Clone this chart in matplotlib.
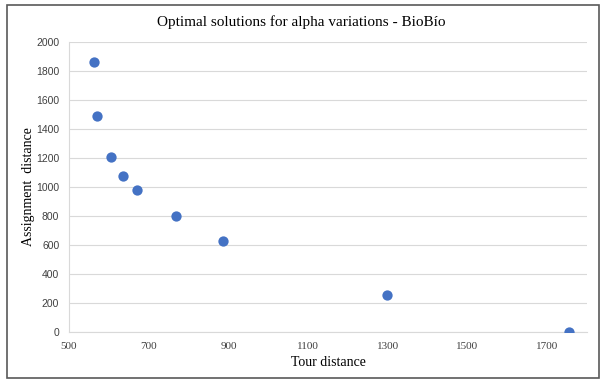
import matplotlib
matplotlib.use('Agg')
import matplotlib.pyplot as plt
from matplotlib.patches import Rectangle

# Data
tour_distance = [563, 570, 606, 636, 671, 769, 887, 1297, 1755]
assignment_distance = [1865, 1490, 1210, 1075, 980, 800, 630, 255, 0]
x_ticks = [500, 700, 900, 1100, 1300, 1500, 1700]
y_ticks = [0, 200, 400, 600, 800, 1000, 1200, 1400, 1600, 1800, 2000]

serif = 'Liberation Serif'
sans = 'Liberation Sans'

fig = plt.figure(figsize=(6.03, 3.80), dpi=100, facecolor='white')
ax = fig.add_axes([69 / 603, 1 - 332 / 380, (587 - 69) / 603, (332 - 42) / 380])

ax.scatter(tour_distance, assignment_distance, s=55, color='#4472C4', zorder=3, linewidths=0)

ax.set_xlim(500, 1800)
ax.set_ylim(0, 2000)
ax.set_xticks(x_ticks)
ax.set_yticks(y_ticks)
ax.tick_params(axis='both', length=0, colors='#404040')
ax.tick_params(axis='x', pad=7)
ax.tick_params(axis='y', pad=7)
for lab in ax.get_xticklabels():
    lab.set_family(serif)
    lab.set_fontsize(8)
for lab in ax.get_yticklabels():
    lab.set_family(sans)
    lab.set_fontsize(7.5)

ax.grid(axis='y', color='#d9d9d9', linewidth=0.8)
ax.set_axisbelow(True)
for side in ['top', 'right']:
    ax.spines[side].set_visible(False)
for side in ['left', 'bottom']:
    ax.spines[side].set_color('#d9d9d9')
    ax.spines[side].set_linewidth(0.8)

ax.set_xlabel('Tour distance', family=serif, fontsize=10, labelpad=4)
ax.set_ylabel('Assignment  distance', family=serif, fontsize=10, labelpad=1)
fig.text(0.5, 1 - 22 / 380, 'Optimal solutions for alpha variations - BioBío',
         family=serif, fontsize=11, ha='center', va='center')

# outer chart frame
fig.patches.append(Rectangle((7 / 603, 1 - 378 / 380), (599 - 7) / 603, (378 - 5) / 380,
                             transform=fig.transFigure, fill=False,
                             edgecolor='#595959', linewidth=1.2))

plt.savefig('out.png', dpi=100, facecolor='white')
plt.close()
